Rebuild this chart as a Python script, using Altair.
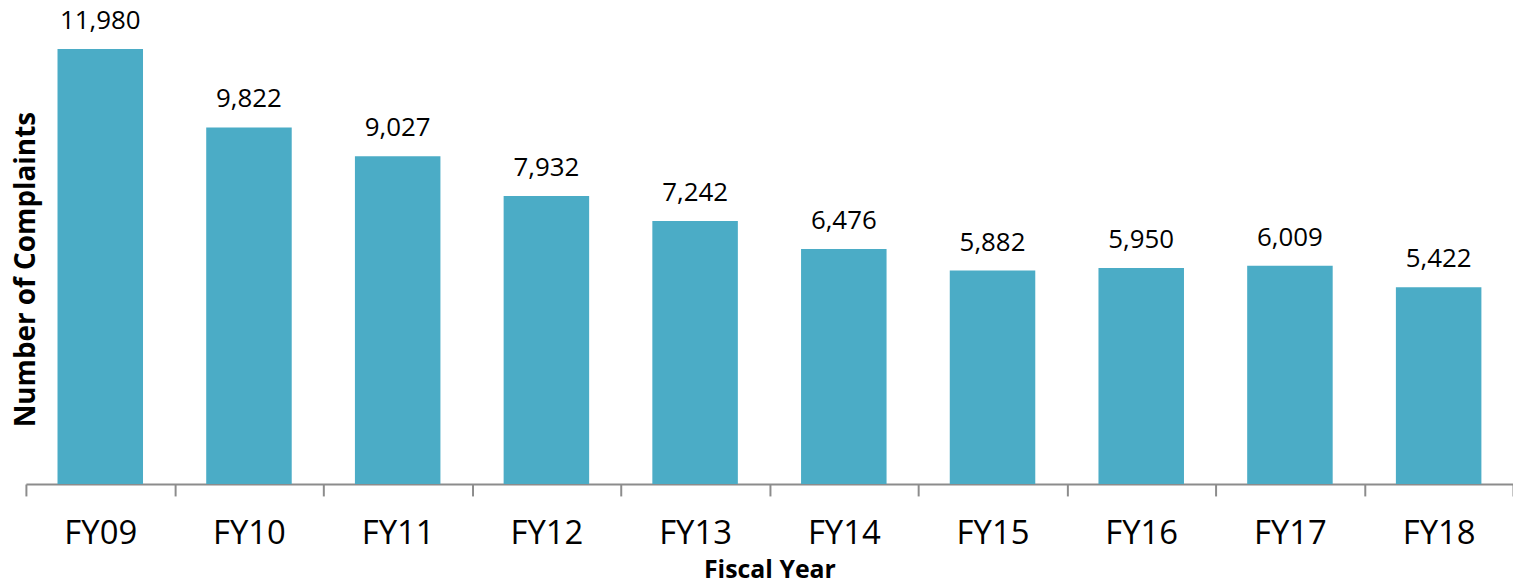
import altair as alt
import pandas as pd

years = ["FY09", "FY10", "FY11", "FY12", "FY13", "FY14", "FY15", "FY16", "FY17", "FY18"]
complaints = [11980, 9822, 9027, 7932, 7242, 6476, 5882, 5950, 6009, 5422]

df = pd.DataFrame({"year": years, "complaints": complaints})

FONT = "Open Sans"
BAR = "#4BACC6"

x = alt.X(
    "year:N",
    sort=years,
    title="Fiscal Year",
    scale=alt.Scale(paddingInner=0, paddingOuter=0),
    axis=alt.Axis(
        labelAngle=0,
        labelFont=FONT,
        labelFontSize=33,
        labelColor="#000000",
        labelPadding=22,
        tickBand="extent",
        tickSize=12,
        tickWidth=2,
        tickColor="#8c8c8c",
        domainColor="#8c8c8c",
        domainWidth=2,
        titleFont=FONT,
        titleFontSize=25,
        titleFontWeight="bold",
        titleColor="#000000",
        titleBaseline="alphabetic",
        titleY=94,
    ),
)

y = alt.Y(
    "complaints:Q",
    title="Number of Complaints",
    scale=alt.Scale(domain=[0, 12000], nice=False),
    axis=alt.Axis(
        labels=False,
        ticks=False,
        domain=False,
        grid=False,
        titleFont=FONT,
        titleFontSize=28,
        titleFontWeight="bold",
        titleColor="#000000",
        titleBaseline="alphabetic",
        titleAngle=270,
        titleX=9,
        titleY=222,
    ),
)

base = alt.Chart(df)

bars = base.mark_bar(color=BAR, width=alt.RelativeBandSize(0.575)).encode(x=x, y=y)

labels = base.mark_text(
    font=FONT, fontSize=26, color="#000000", baseline="alphabetic", dy=-20
).encode(
    x=alt.X("year:N", sort=years),
    y=alt.Y("complaints:Q"),
    text=alt.Text("complaints:Q", format=","),
)

chart = (
    alt.layer(bars, labels)
    .properties(
        width=1495,
        height=438,
        autosize=alt.AutoSizeParams(type="none"),
        padding={"left": 18, "top": 39, "right": 0, "bottom": 99},
    )
    .configure_view(stroke=None)
)

chart.save("out.html", embed_options={"renderer": "svg", "actions": False})
